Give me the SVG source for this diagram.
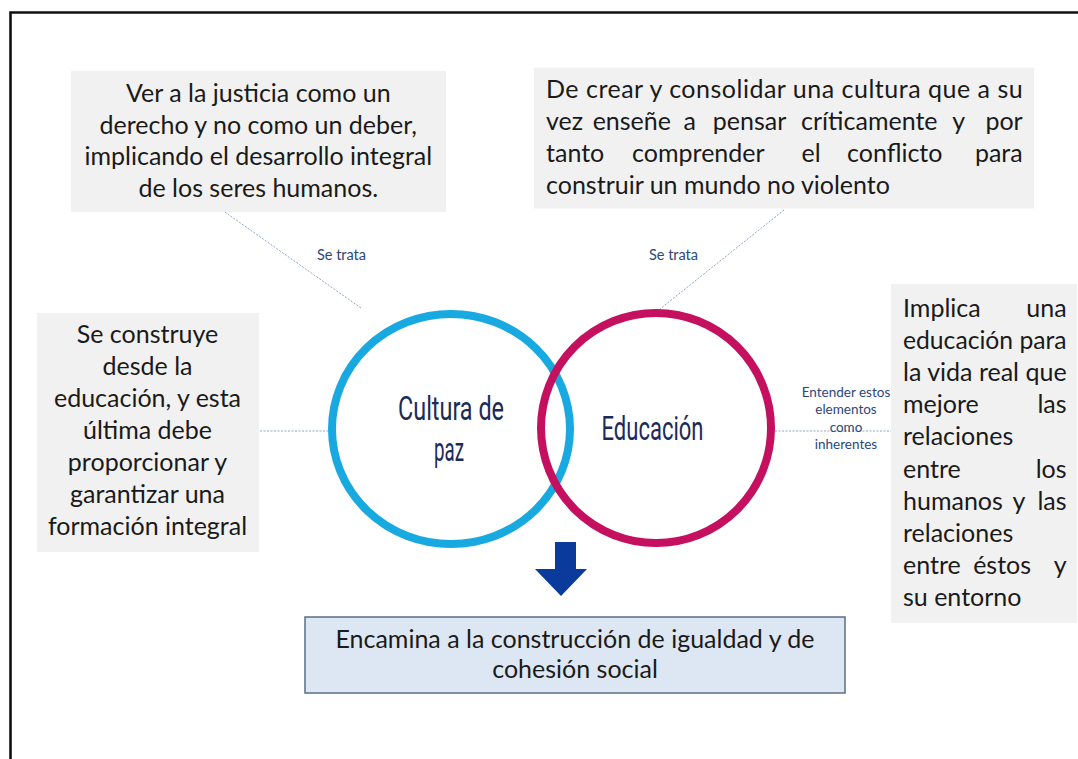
<svg xmlns="http://www.w3.org/2000/svg" width="1078" height="759" viewBox="0 0 1078 759">
<style>
.box{fill:#f1f1f1}
.t{font-family:Lato,"Open Sans","Liberation Sans",sans-serif;font-size:25px;fill:#1a1a1a}
.c{text-anchor:middle}
.lbl{font-family:Lato,"Open Sans","Liberation Sans",sans-serif;font-size:14.5px;fill:#2c4680}
.small{font-family:Lato,"Open Sans","Liberation Sans",sans-serif;font-size:13.5px;fill:#2c4680;text-anchor:middle}
.big{font-family:Roboto,"Liberation Sans",Arial,sans-serif;font-weight:400;font-size:33px;fill:#1c2a5a;text-anchor:middle}
.con{stroke:#8ea6c4;stroke-width:1;stroke-dasharray:2 1.5;fill:none}
</style>
<rect width="1078" height="759" fill="#ffffff"/>
<path d="M10.5 762 V12.5 H1080" fill="none" stroke="#111111" stroke-width="2.6"/>

<g id="connectors">
<line class="con" x1="222" y1="210" x2="361" y2="308"/>
<line class="con" x1="784" y1="210" x2="655" y2="313"/>
<line class="con" x1="260" y1="431" x2="336" y2="431"/>
<line class="con" x1="775" y1="431" x2="891" y2="431"/>
<text class="lbl c" x="341.5" y="260">Se trata</text>
<text class="lbl c" x="673.5" y="260">Se trata</text>
<text class="small" x="846" y="397">Entender estos</text>
<text class="small" x="846" y="414">elementos</text>
<text class="small" x="846" y="432">como</text>
<text class="small" x="846" y="449">inherentes</text>
</g>

<g id="box-justicia">
<rect class="box" x="71" y="71" width="375" height="141"/>
<text class="t c" x="258.3" y="102">Ver a la justicia como un</text>
<text class="t c" x="258.3" y="133.7">derecho y no como un deber,</text>
<text class="t c" x="258.3" y="165.4">implicando el desarrollo integral</text>
<text class="t c" x="258.3" y="197">de los seres humanos.</text>
</g>

<g id="box-crear">
<rect class="box" x="534" y="67.5" width="500" height="141"/>
<text class="t" x="546" y="98" textLength="476.7" lengthAdjust="spacing">De crear y consolidar una cultura que a su</text>
<text class="t" x="546" y="130">vez <tspan x="635" text-anchor="middle">enseñe </tspan><tspan x="693" text-anchor="middle">a </tspan><tspan x="752.5" text-anchor="middle">pensar </tspan><tspan x="872.5" text-anchor="middle">críticamente </tspan><tspan x="961.7" text-anchor="middle">y </tspan><tspan x="1022.7" text-anchor="end">por</tspan></text>
<text class="t" x="546" y="162">tanto <tspan x="701.3" text-anchor="middle">comprender </tspan><tspan x="814.2" text-anchor="middle">el </tspan><tspan x="897.9" text-anchor="middle">conflicto </tspan><tspan x="1022.7" text-anchor="end">para</tspan></text>
<text class="t" x="546" y="194">construir un mundo no violento</text>
</g>

<g id="box-construye">
<rect class="box" x="37" y="313" width="222" height="239"/>
<text class="t c" x="147.5" y="343">Se construye</text>
<text class="t c" x="147.5" y="375">desde la</text>
<text class="t c" x="147.5" y="407">educación, y esta</text>
<text class="t c" x="147.5" y="439">última  debe</text>
<text class="t c" x="147.5" y="471">proporcionar y</text>
<text class="t c" x="147.5" y="503">garantizar una</text>
<text class="t c" x="147.5" y="535">formación integral</text>
</g>

<g id="circle-cultura">
<ellipse cx="451" cy="429" rx="119" ry="115" fill="none" stroke="#19a9e1" stroke-width="8"/>
<text class="big" x="451" y="420" textLength="106" lengthAdjust="spacingAndGlyphs">Cultura de</text>
<text class="big" x="449" y="461" textLength="30" lengthAdjust="spacingAndGlyphs">paz</text>
</g>

<g id="circle-educacion">
<circle cx="656" cy="428" r="115" fill="none" stroke="#c4105f" stroke-width="8"/>
<text class="big" x="652.5" y="440" textLength="102" lengthAdjust="spacingAndGlyphs">Educación</text>
</g>

<g id="box-implica">
<rect class="box" x="891" y="284" width="186" height="339"/>
<text class="t" x="903" y="316.6">Implica <tspan x="1066.6" text-anchor="end">una</tspan></text>
<text class="t" x="903" y="348.8" textLength="163.6" lengthAdjust="spacingAndGlyphs">educación para</text>
<text class="t" x="903" y="381" textLength="163.6" lengthAdjust="spacingAndGlyphs">la vida real que</text>
<text class="t" x="903" y="413.2">mejore <tspan x="1066.6" text-anchor="end">las</tspan></text>
<text class="t" x="903" y="445.4">relaciones</text>
<text class="t" x="903" y="477.6">entre <tspan x="1066.6" text-anchor="end">los</tspan></text>
<text class="t" x="903" y="509.8">humanos <tspan x="1021.8" text-anchor="middle">y </tspan><tspan x="1066.6" text-anchor="end">las</tspan></text>
<text class="t" x="903" y="542">relaciones</text>
<text class="t" x="903" y="574.2">entre <tspan x="1005.3" text-anchor="middle">éstos </tspan><tspan x="1066.6" text-anchor="end">y</tspan></text>
<text class="t" x="903" y="606.4">su entorno</text>
</g>

<g id="arrow">
<polygon points="555,542 576,542 576,569 587,569 561,596 535,569 555,569" fill="#0a3a9c"/>
</g>

<g id="box-encamina">
<rect x="305" y="617" width="540" height="76" fill="#dde7f3" stroke="#5b6e86" stroke-width="1.5"/>
<text class="t c" x="575" y="648">Encamina a la construcción de igualdad y de</text>
<text class="t c" x="575" y="678">cohesión social</text>
</g>
</svg>
